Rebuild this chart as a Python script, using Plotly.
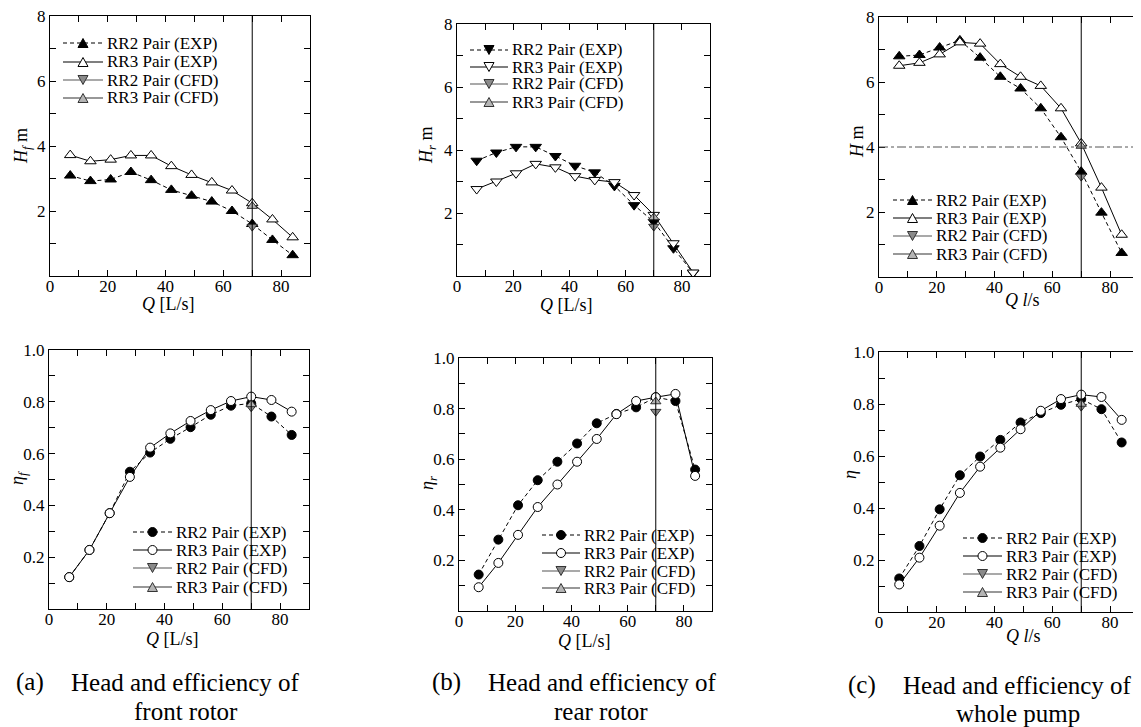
import plotly.graph_objects as go

# reference canvas size and the page's 8 px body margin
REF_W, REF_H = 1141, 727
OFF = 8
W, H = REF_W - OFF, REF_H - OFF

# ---------------- data ----------------
Q = [7, 14, 21, 28, 35, 42, 49, 56, 63, 70, 77, 84]
Q_CFD = [70]
Q_DESIGN = 70
H_DESIGN = 4

# front rotor head
HF_RR2_EXP = [3.09, 2.92, 2.97, 3.20, 2.95, 2.65, 2.47, 2.29, 2.00, 1.60, 1.11, 0.64]
HF_RR3_EXP = [3.72, 3.53, 3.58, 3.71, 3.71, 3.38, 3.11, 2.88, 2.63, 2.24, 1.74, 1.19]
HF_RR2_CFD = [1.52]
HF_RR3_CFD = [2.15]

# rear rotor head
HR_RR2_EXP = [3.66, 3.92, 4.10, 4.10, 3.81, 3.50, 3.29, 2.86, 2.25, 1.72, 0.88, 0.10]
HR_RR3_EXP = [2.76, 3.00, 3.26, 3.56, 3.45, 3.17, 3.05, 2.98, 2.57, 1.94, 1.04, 0.11]
HR_RR2_CFD = [1.57]
HR_RR3_CFD = [1.86]

# whole pump head
H_RR2_EXP = [6.79, 6.83, 7.06, 7.28, 6.75, 6.16, 5.80, 5.19, 4.30, 3.24, 1.98, 0.74]
H_RR3_EXP = [6.50, 6.59, 6.85, 7.22, 7.18, 6.55, 6.16, 5.88, 5.19, 4.11, 2.75, 1.30]
H_RR2_CFD = [3.09]
H_RR3_CFD = [4.03]

# front rotor efficiency
EF_RR2_EXP = [0.123, 0.228, 0.370, 0.530, 0.604, 0.657, 0.702, 0.750, 0.785, 0.794, 0.743, 0.672]
EF_RR3_EXP = [0.123, 0.228, 0.370, 0.510, 0.623, 0.678, 0.726, 0.768, 0.803, 0.820, 0.807, 0.762]
EF_RR2_CFD = [0.779]
EF_RR3_CFD = [0.790]

# rear rotor efficiency
ER_RR2_EXP = [0.144, 0.282, 0.418, 0.517, 0.590, 0.662, 0.742, 0.779, 0.805, 0.845, 0.830, 0.559]
ER_RR3_EXP = [0.094, 0.190, 0.301, 0.411, 0.500, 0.590, 0.680, 0.778, 0.830, 0.845, 0.858, 0.534]
ER_RR2_CFD = [0.788]
ER_RR3_CFD = [0.828]

# whole pump efficiency
E_RR2_EXP = [0.129, 0.254, 0.395, 0.526, 0.598, 0.662, 0.729, 0.765, 0.797, 0.819, 0.780, 0.652]
E_RR3_EXP = [0.106, 0.209, 0.332, 0.458, 0.559, 0.632, 0.703, 0.774, 0.819, 0.836, 0.827, 0.739]
E_RR2_CFD = [0.790]
E_RR3_CFD = [0.800]

X_TICKS = [0, 20, 40, 60, 80]
H_TICKS = [2, 4, 6, 8]
E_TICKS = [0.2, 0.4, 0.6, 0.8, 1.0]
E_TICKTEXT = ["0.2", "0.4", "0.6", "0.8", "1.0"]

SERIES_NAMES = ["RR2 Pair (EXP)", "RR3 Pair (EXP)", "RR2 Pair (CFD)", "RR3 Pair (CFD)"]

FONT = "Liberation Serif"
CFD2_FILL, CFD3_FILL, CFD_EDGE = "#8a8a8a", "#b5b5b5", "#333333"

# ---------------- layout geometry (reference pixels) ----------------
boxes = [  # (x0, x1, top, bottom)
    (50, 310, 16, 276),
    (457, 710, 24, 276),
    (879, 1139, 17, 277),
    (49, 309, 350, 609),
    (459, 712, 358, 611),
    (879, 1139, 352, 612),
]

panels = [
    dict(rr2=HF_RR2_EXP, rr3=HF_RR3_EXP, c2=HF_RR2_CFD, c3=HF_RR3_CFD, sym="triangle-up", kind="H",
         ytitle="<i>H<sub>f</sub></i> m", xtitle="<i>Q</i> [L/s]",
         yt=(22, 146), xt=(168, 304), leg=(63, 103, 105, [43, 62, 80, 98])),
    dict(rr2=HR_RR2_EXP, rr3=HR_RR3_EXP, c2=HR_RR2_CFD, c3=HR_RR3_CFD, sym="triangle-down", kind="H",
         ytitle="<i>H<sub>r</sub></i> m", xtitle="<i>Q</i> [L/s]",
         yt=(427, 146), xt=(566, 305), leg=(470, 508, 510, [50, 67, 84, 102])),
    dict(rr2=H_RR2_EXP, rr3=H_RR3_EXP, c2=H_RR2_CFD, c3=H_RR3_CFD, sym="triangle-up", kind="H",
         ytitle="<i>H</i> m", xtitle="<i>Q l</i>/s",
         yt=(857, 142), xt=(1022, 300), leg=(893, 932, 934, [200, 218, 236, 254])),
    dict(rr2=EF_RR2_EXP, rr3=EF_RR3_EXP, c2=EF_RR2_CFD, c3=EF_RR3_CFD, sym="circle", kind="E",
         ytitle="<i>η<sub>f</sub></i>", xtitle="<i>Q</i> [L/s]",
         yt=(18, 478), xt=(172, 639), leg=(133, 172, 174, [532, 550, 568, 587])),
    dict(rr2=ER_RR2_EXP, rr3=ER_RR3_EXP, c2=ER_RR2_CFD, c3=ER_RR3_CFD, sym="circle", kind="E",
         ytitle="<i>η<sub>r</sub></i>", xtitle="<i>Q</i> [L/s]",
         yt=(428, 483), xt=(584, 641), leg=(542, 580, 582, [535, 553, 571, 588])),
    dict(rr2=E_RR2_EXP, rr3=E_RR3_EXP, c2=E_RR2_CFD, c3=E_RR3_CFD, sym="circle", kind="E",
         ytitle="<i>η</i>", xtitle="<i>Q l</i>/s",
         yt=(850, 475), xt=(1023, 636), leg=(963, 1002, 1004, [538, 556, 574, 592])),
]

fig = go.Figure()
shapes = []
annotations = []


def px(x):
    return (x - OFF) / W


def py(y):
    return 1 - (y - OFF) / H


def marker_shape(sym, cx, cy, fill, edge):
    if sym == "circle":
        r = 4.5
        return dict(type="circle", xref="paper", yref="paper",
                    x0=px(cx - r), x1=px(cx + r), y0=py(cy + r), y1=py(cy - r),
                    fillcolor=fill, line=dict(color=edge, width=1))
    hw, hh = 5, 4.5
    if sym == "triangle-up":
        pts = [(cx - hw, cy + hh), (cx + hw, cy + hh), (cx, cy - hh)]
    else:
        pts = [(cx - hw, cy - hh), (cx + hw, cy - hh), (cx, cy + hh)]
    path = "M " + " L ".join(f"{px(a):.5f},{py(b):.5f}" for a, b in pts) + " Z"
    return dict(type="path", xref="paper", yref="paper", path=path,
                fillcolor=fill, line=dict(color=edge, width=1))


for i, (p, b) in enumerate(zip(panels, boxes), start=1):
    sfx = "" if i == 1 else str(i)
    xa, ya = "x" + sfx, "y" + sfx
    size_exp = 10 if p["sym"] != "circle" else 9

    fig.add_trace(go.Scatter(
        x=Q, y=p["rr2"], xaxis=xa, yaxis=ya, name=SERIES_NAMES[0], showlegend=False,
        mode="lines+markers",
        line=dict(color="black", width=1, dash="4px,3px"),
        marker=dict(symbol=p["sym"], size=size_exp, color="black", line=dict(color="black", width=1)),
    ))
    fig.add_trace(go.Scatter(
        x=Q, y=p["rr3"], xaxis=xa, yaxis=ya, name=SERIES_NAMES[1], showlegend=False,
        mode="lines+markers",
        line=dict(color="black", width=1),
        marker=dict(symbol=p["sym"], size=size_exp, color="white", line=dict(color="black", width=1)),
    ))
    fig.add_trace(go.Scatter(
        x=Q_CFD, y=p["c2"], xaxis=xa, yaxis=ya, name=SERIES_NAMES[2], showlegend=False,
        mode="markers",
        marker=dict(symbol="triangle-down", size=9, color=CFD2_FILL, line=dict(color=CFD_EDGE, width=1)),
    ))
    fig.add_trace(go.Scatter(
        x=Q_CFD, y=p["c3"], xaxis=xa, yaxis=ya, name=SERIES_NAMES[3], showlegend=False,
        mode="markers",
        marker=dict(symbol="triangle-up", size=9, color=CFD3_FILL, line=dict(color=CFD_EDGE, width=1)),
    ))

    x0, x1, yt0, yt1 = b
    common = dict(showline=True, linecolor="black", linewidth=1.4, mirror="ticks",
                  ticks="inside", ticklen=6, tickwidth=1, tickcolor="black",
                  showgrid=False, zeroline=False, automargin=False,
                  ticklabeloverflow="allow",
                  tickfont=dict(family=FONT, size=17, color="black"))
    xaxis = dict(common, domain=[px(x0), px(x1)], range=[0, 90], tickvals=X_TICKS,
                 ticklabelstandoff=-6,
                 minor=dict(dtick=10, tick0=0, ticks="inside", ticklen=6, tickcolor="black"),
                 anchor=ya)
    if p["kind"] == "H":
        yaxis = dict(common, domain=[py(yt1), py(yt0)], range=[0, 8], tickvals=H_TICKS,
                     minor=dict(dtick=1, tick0=0, ticks="inside", ticklen=6, tickcolor="black"),
                     anchor=xa)
    else:
        yaxis = dict(common, domain=[py(yt1), py(yt0)], range=[0, 1.0], tickvals=E_TICKS,
                     ticktext=E_TICKTEXT,
                     minor=dict(dtick=0.1, tick0=0, ticks="inside", ticklen=6, tickcolor="black"),
                     anchor=xa)
    fig.update_layout(**{"xaxis" + sfx: xaxis, "yaxis" + sfx: yaxis})

    # design flow line
    shapes.append(dict(type="line", xref=xa, yref=ya + " domain", x0=Q_DESIGN, x1=Q_DESIGN, y0=0, y1=1,
                       line=dict(color="black", width=1)))
    if i == 3:
        shapes.append(dict(type="line", xref=xa + " domain", yref=ya, x0=0, x1=1, y0=H_DESIGN, y1=H_DESIGN,
                           line=dict(color="#555555", width=1, dash="dashdot")))

    # manual legend (line sample + marker + text)
    lx0, lx1, tx, rows = p["leg"]
    styles = [
        (p["sym"], "black", "black", "black", "4px,3px"),
        (p["sym"], "white", "black", "black", "solid"),
        ("triangle-down", CFD2_FILL, CFD_EDGE, "#555555", "solid"),
        ("triangle-up", CFD3_FILL, CFD_EDGE, "#333333", "solid"),
    ]
    for (sym, fill, edge, lcol, dash), ry, name in zip(styles, rows, SERIES_NAMES):
        shapes.append(dict(type="line", xref="paper", yref="paper", x0=px(lx0), x1=px(lx1),
                           y0=py(ry), y1=py(ry), line=dict(color=lcol, width=1.2, dash=dash)))
        shapes.append(marker_shape(sym, (lx0 + lx1) / 2, ry, fill, edge))
        annotations.append(dict(text=name, x=px(tx), y=py(ry), xref="paper", yref="paper",
                                xanchor="left", yanchor="middle", showarrow=False,
                                font=dict(family=FONT, size=17, color="black")))

    annotations.append(dict(text=p["ytitle"], x=px(p["yt"][0]), y=py(p["yt"][1]),
                            xref="paper", yref="paper", showarrow=False, textangle=-90,
                            xanchor="center", yanchor="middle",
                            font=dict(family=FONT, size=18, color="black")))
    annotations.append(dict(text=p["xtitle"], x=px(p["xt"][0]), y=py(p["xt"][1]),
                            xref="paper", yref="paper", showarrow=False,
                            xanchor="center", yanchor="middle",
                            font=dict(family=FONT, size=18, color="black")))

captions = [
    ("(a)", 30, "Head and efficiency of", 185, "front rotor", 186, 682, 711),
    ("(b)", 446, "Head and efficiency of", 602, "rear rotor", 601, 682, 711),
    ("(c)", 862, "Head and efficiency of", 1017, "whole pump", 1018, 685, 713),
]
for lab, lx, l1, l1x, l2, l2x, y1p, y2p in captions:
    for txt, xx, yy in [(lab, lx, y1p), (l1, l1x, y1p), (l2, l2x, y2p)]:
        annotations.append(dict(text=txt, x=px(xx), y=py(yy), xref="paper", yref="paper",
                                xanchor="center", yanchor="middle", showarrow=False,
                                font=dict(family=FONT, size=25, color="black")))

fig.update_layout(
    width=W, height=H, margin=dict(l=0, r=0, t=0, b=0, pad=0),
    paper_bgcolor="white", plot_bgcolor="white",
    shapes=shapes, annotations=annotations, showlegend=False,
    font=dict(family=FONT, color="black"),
)

fig.write_html("out.html")
